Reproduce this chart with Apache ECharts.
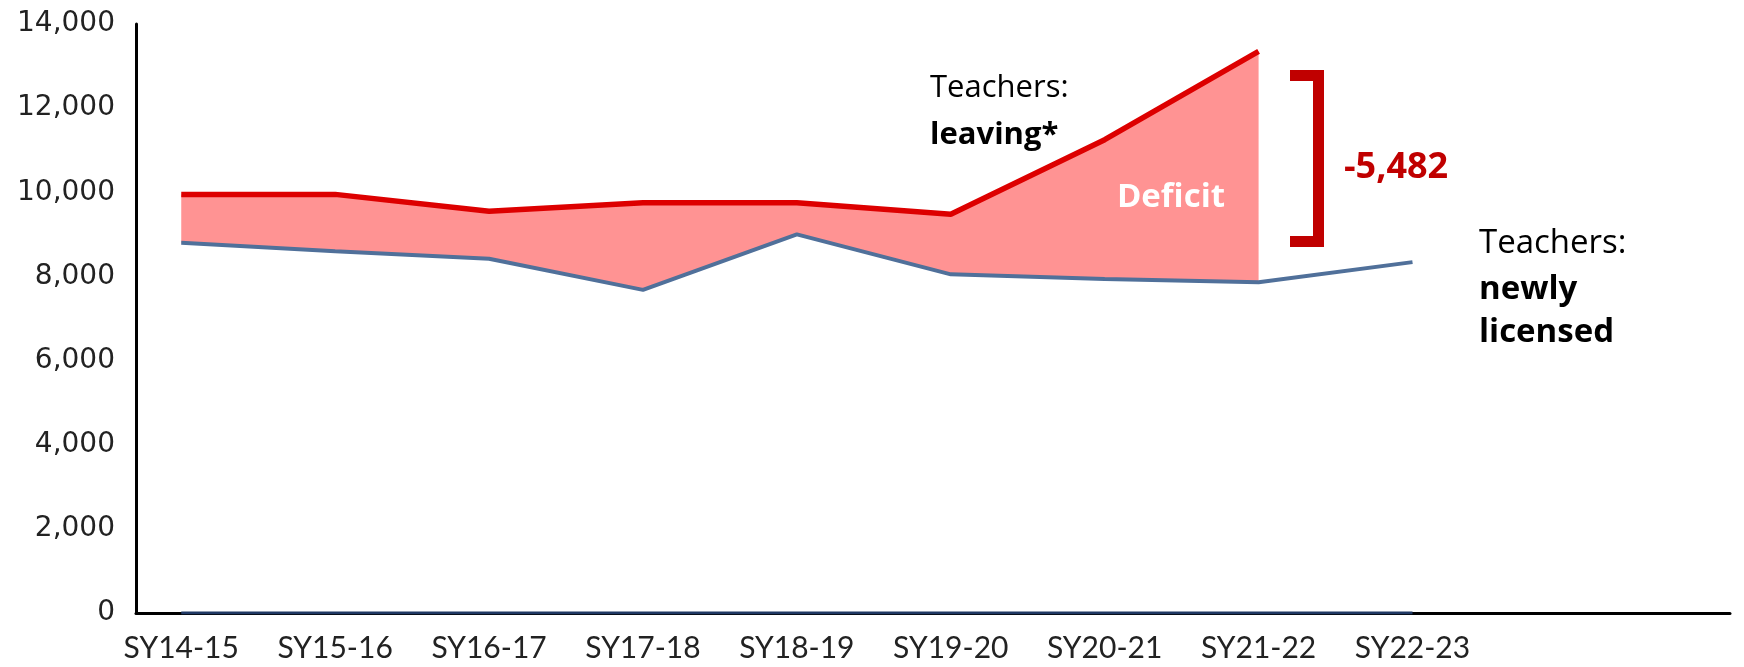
<!DOCTYPE html>
<html>
<head>
<meta charset="utf-8">
<script src="https://cdn.jsdelivr.net/npm/echarts@6/dist/echarts.min.js"></script>
<style>
  html, body { margin: 0; padding: 0; background: #fff; }
  #chart { width: 1744px; height: 667px; }
</style>
</head>
<body>
<div id="chart"></div>
<script>
// school years on the x axis
const years = ['SY14-15', 'SY15-16', 'SY16-17', 'SY17-18', 'SY18-19', 'SY19-20', 'SY20-21', 'SY21-22', 'SY22-23']
// teachers leaving (no value yet for SY22-23)
const leaving = [9950, 9950, 9550, 9750, 9750, 9480, 11250, 13350]
// newly licensed teachers
const licensed = [8800, 8600, 8420, 7680, 9000, 8050, 7940, 7860, 8340]
// flat series sitting on the x axis
const zeroLine = [0, 0, 0, 0, 0, 0, 0, 0, 0]
const yTicks = [0, 2000, 4000, 6000, 8000, 10000, 12000, 14000]

const pairs = arr => arr.map((v, i) => [i, v])

const chart = echarts.init(document.getElementById('chart'))

// band between the two lines, built from the data through the axes
const renderBand = (params, api) => {
    const top = leaving.map((v, i) => api.coord([i, v]))
    const bottom = leaving.map((v, i) => api.coord([i, licensed[i]])).reverse()
    return {
        type: 'polygon',
        shape: { points: top.concat(bottom) },
        style: { fill: '#ff9393' }
    }
}

const option = {
    animation: false,
    grid: { left: 136, right: 14, top: 24, bottom: 54 },
    xAxis: {
        type: 'value',
        min: -0.294,
        max: 10.063,
        splitLine: { show: false },
        axisTick: { show: false },
        axisLine: { show: true, onZero: false, lineStyle: { color: '#000', width: 3 } },
        axisLabel: {
            customValues: years.map((y, i) => i),
            formatter: v => years[Math.round(v)],
            fontFamily: 'Lato',
            fontSize: 30,
            color: '#222',
            margin: 20
        }
    },
    yAxis: {
        type: 'value',
        min: yTicks[0],
        max: yTicks[yTicks.length - 1],
        interval: 2000,
        splitLine: { show: false },
        axisTick: { show: false },
        axisLine: { show: true, onZero: false, lineStyle: { color: '#000', width: 3 } },
        axisLabel: {
            formatter: v => v.toLocaleString('en-US'),
            fontFamily: 'DejaVu Sans',
            fontSize: 28,
            color: '#222',
            margin: 21
        }
    },
    series: [
        {
            name: 'Deficit',
            type: 'custom',
            renderItem: renderBand,
            data: [[0, leaving[0]]],
            silent: true,
            z: 1
        },
        {
            name: 'Teachers: newly licensed',
            type: 'line',
            data: pairs(licensed),
            symbol: 'none',
            lineStyle: { color: '#50709a', width: 4 }
        },
        {
            name: 'Teachers: leaving*',
            type: 'line',
            data: pairs(leaving),
            symbol: 'none',
            lineStyle: { color: '#dd0000', width: 5.5 }
        },
        {
            type: 'line',
            data: pairs(zeroLine),
            symbol: 'none',
            lineStyle: { color: '#1f3864', width: 3 }
        }
    ],
    graphic: [
        // left annotation
        { type: 'text', z: 100, left: 930, top: 73, style: { text: 'Teachers:', font: '31px "Open Sans"', fill: '#000' } },
        { type: 'text', z: 100, left: 930, top: 120, style: { text: 'leaving*', font: 'bold 31px "Open Sans"', fill: '#000' } },
        // deficit label
        { type: 'text', z: 100, x: 1171, y: 198, style: { text: 'Deficit', font: 'bold 33px "Open Sans"', fill: '#fff', align: 'center', verticalAlign: 'middle' } },
        // bracket
        { type: 'rect', z: 100, shape: { x: 1313, y: 70, width: 11, height: 177 }, style: { fill: '#c00000' } },
        { type: 'rect', z: 100, shape: { x: 1290, y: 70, width: 34, height: 11 }, style: { fill: '#c00000' } },
        { type: 'rect', z: 100, shape: { x: 1290, y: 236, width: 34, height: 11 }, style: { fill: '#c00000' } },
        { type: 'text', z: 100, left: 1344, top: 150, style: { text: '-5,482', font: 'bold 36px "Open Sans"', fill: '#c00000' } },
        // right annotation
        { type: 'text', z: 100, left: 1479, top: 227, style: { text: 'Teachers:', font: '33px "Open Sans"', fill: '#000' } },
        { type: 'text', z: 100, left: 1479, top: 273, style: { text: 'newly', font: 'bold 33px "Open Sans"', fill: '#000' } },
        { type: 'text', z: 100, left: 1479, top: 316, style: { text: 'licensed', font: 'bold 33px "Open Sans"', fill: '#000' } }
    ]
}

chart.setOption(option)
</script>
</body>
</html>
